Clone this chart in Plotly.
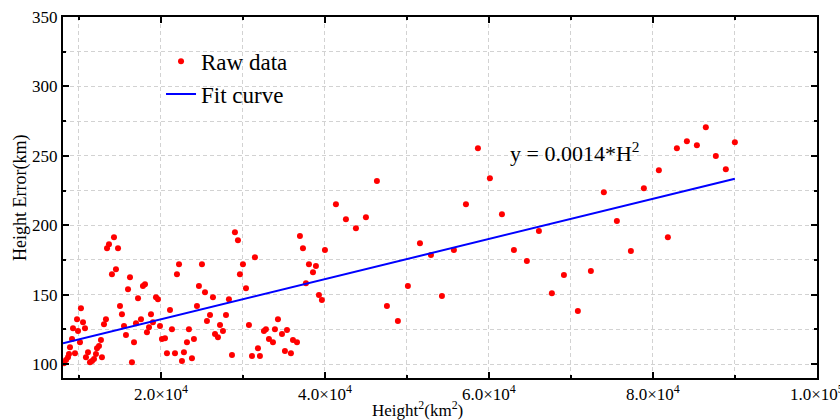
import plotly.graph_objects as go

# Raw data: Height^2 (km^2) and Height Error (km)
height_sq = [
    8170, 8420, 8660, 8780, 8900, 9150, 9270, 9510, 9760, 9880,
    10120, 10240, 10490, 10730, 10850, 11100, 11340, 11590, 11830, 12070,
    12200, 12440, 12680, 12800, 13050, 13290, 13420, 13660, 14020, 14270,
    14510, 14760, 15000, 15240, 15490, 15730, 15980, 16220, 16460, 16710,
    16950, 17200, 17560, 17800, 18050, 18290, 18540, 18780, 19020, 19390,
    19630, 19880, 20120, 20490, 20730, 21100, 21340, 21710, 21950, 22200,
    22560, 22800, 23170, 23410, 23780, 24020, 24390, 24630, 25000, 25370,
    25610, 25980, 26340, 26590, 26950, 27200, 27560, 27930, 28290, 28660,
    29020, 29390, 29630, 30000, 30370, 30730, 31100, 31460, 31830, 32070,
    32560, 32800, 33170, 33660, 33900, 34270, 34760, 35120, 35370, 35850,
    36100, 36590, 36950, 37320, 37680, 38050, 38540, 38900, 39270, 39630,
    40000, 41340, 42560, 43780, 45000, 46340, 47560, 48900, 50120, 51590,
    52930, 54270, 55730, 57200, 58660, 60120, 61590, 63050, 64630, 66100,
    67680, 69150, 70850, 72440, 74020, 75610, 77320, 78900, 80730, 81830,
    82930, 84150, 85370, 86460, 87680, 88900, 90000,
]
height_err = [
    100.7, 102.9, 105.0, 107.2, 112.2, 118.0, 125.9, 107.9, 132.4, 123.8,
    115.8, 140.3, 130.2, 125.9, 105.0, 108.6, 101.4, 102.2, 103.6, 107.2,
    111.5, 113.0, 117.3, 105.0, 128.8, 132.4, 183.5, 186.4, 164.8, 191.4,
    168.4, 183.5, 141.8, 136.0, 127.4, 120.9, 154.0, 162.6, 101.4, 115.8,
    129.5, 147.5, 132.4, 156.2, 157.6, 123.0, 126.6, 136.0, 130.2, 148.2,
    146.8, 127.4, 118.0, 118.7, 107.9, 138.9, 125.2, 107.9, 164.8, 172.0,
    102.2, 108.6, 115.8, 125.2, 104.3, 118.0, 141.8, 156.2, 172.0, 151.8,
    131.0, 135.3, 148.2, 121.6, 119.4, 128.1, 123.8, 135.3, 146.8, 106.5,
    195.0, 189.3, 164.8, 172.0, 154.7, 128.1, 105.8, 177.0, 111.5, 105.8,
    123.8, 125.2, 118.0, 115.8, 125.2, 132.4, 121.6, 109.4, 124.5, 107.9,
    117.3, 115.8, 192.2, 183.5, 158.3, 172.0, 166.2, 170.6, 149.7, 146.1,
    182.1, 215.2, 204.4, 197.9, 205.8, 231.8, 141.8, 131.0, 156.2, 187.1,
    178.5, 149.0, 182.1, 215.2, 255.5, 233.9, 208.0, 182.1, 174.2, 195.8,
    151.1, 164.1, 138.2, 167.0, 223.8, 203.0, 181.4, 226.7, 239.7, 191.4,
    255.5, 260.6, 257.7, 270.6, 249.8, 240.4, 259.8,
]

# Fit curve end points
fit_x = [8050, 90000]
fit_y = [115.0, 233.5]

x_tick_vals = [20000, 40000, 60000, 80000, 100000]
x_tick_text = ["2.0×10<sup>4</sup>", "4.0×10<sup>4</sup>", "6.0×10<sup>4</sup>",
               "8.0×10<sup>4</sup>", "1.0×10<sup>5</sup>"]
y_tick_vals = [100, 150, 200, 250, 300, 350]

FONT = "Liberation Serif, Times New Roman, serif"
GRID = "#d2d2d2"

fig = go.Figure()
fig.add_trace(go.Scatter(
    x=height_sq, y=height_err, mode="markers", name="Raw data",
    marker=dict(color="#ff0000", size=6, line=dict(width=0)),
))
fig.add_trace(go.Scatter(
    x=fit_x, y=fit_y, mode="lines", name="Fit curve",
    line=dict(color="#0000ff", width=2),
))

fig.add_annotation(
    x=62300, y=252.5, xref="x", yref="y", xanchor="left", yanchor="middle",
    text="y = 0.0014*H<sup>2</sup>", showarrow=False,
    font=dict(family=FONT, size=22, color="black"),
)
# Axis titles
fig.add_annotation(
    x=(417 - 63) / 754, y=0.0, xref="paper", yref="paper",
    xanchor="center", yanchor="top", yshift=-18,
    text="Height<sup>2</sup>(km<sup>2</sup>)", showarrow=False,
    font=dict(family=FONT, size=17, color="black"),
)
fig.add_annotation(
    x=0, y=(378 - 198) / 361, xref="paper", yref="paper",
    xanchor="center", yanchor="middle", xshift=-43,
    text="Height Error(km)", textangle=-90, showarrow=False,
    font=dict(family=FONT, size=18, color="black"),
)

axis_common = dict(
    showline=True, linecolor="black", linewidth=2, mirror="ticks",
    ticks="inside", ticklen=6, tickwidth=2, tickcolor="black",
    showgrid=True, gridcolor=GRID, griddash="4px,3px", gridwidth=1,
    zeroline=False, automargin=False, ticklabeloverflow="allow",
    tickfont=dict(family=FONT, size=17, color="black"),
)

fig.update_xaxes(
    range=[8050, 100020], tickvals=x_tick_vals, ticktext=x_tick_text,
    minor=dict(dtick=10000, tick0=0, ticks="inside", ticklen=3, tickwidth=1.5,
               tickcolor="black", showgrid=True, gridcolor=GRID,
               griddash="4px,3px", gridwidth=1),
    **axis_common,
)
fig.update_yaxes(
    range=[90, 350], tickvals=y_tick_vals,
    minor=dict(dtick=25, tick0=0, ticks="inside", ticklen=3, tickwidth=1.5,
               tickcolor="black", showgrid=True, gridcolor=GRID,
               griddash="4px,3px", gridwidth=1),
    **axis_common,
)

fig.update_layout(
    width=840, height=420,
    margin=dict(l=63, r=23, t=17, b=42),
    paper_bgcolor="white", plot_bgcolor="white",
    font=dict(family=FONT, color="black"),
    legend=dict(
        x=0.13, y=0.937, xanchor="left", yanchor="top",
        bgcolor="rgba(0,0,0,0)", borderwidth=0,
        font=dict(family=FONT, size=23, color="black"),
        itemwidth=30,
    ),
    showlegend=True,
)

fig.write_html(
    "out.html",
    config={"displayModeBar": False},
    post_script="document.body.style.margin='0';"
                "document.documentElement.style.overflow='hidden';",
)
